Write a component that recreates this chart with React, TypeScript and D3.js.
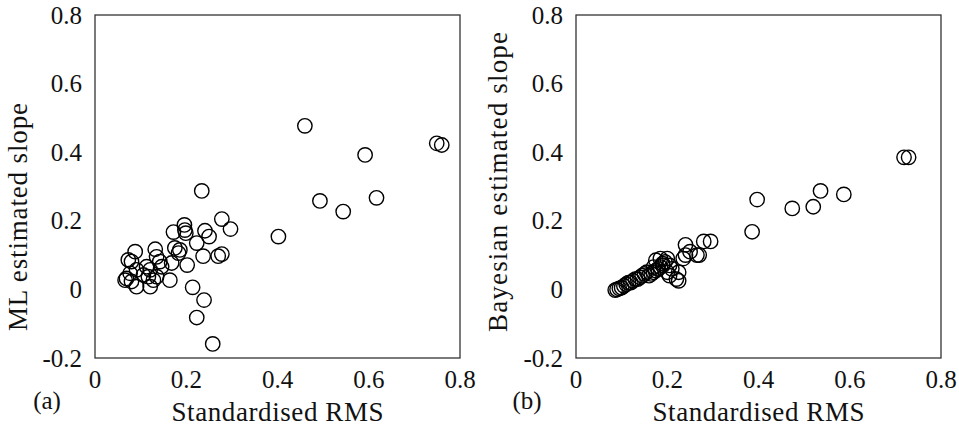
import React from "react";
import * as d3 from "d3";

// Panel (a): ML estimated slope vs standardised RMS
const rmsA = [0.234, 0.278, 0.297, 0.402, 0.196, 0.197, 0.199, 0.172, 0.241, 0.25, 0.223, 0.175, 0.186, 0.183, 0.237, 0.27, 0.278, 0.202, 0.168, 0.164, 0.214, 0.239, 0.223, 0.258,
  0.088, 0.132, 0.073, 0.08, 0.135, 0.142, 0.146, 0.113, 0.121, 0.091, 0.077, 0.106, 0.069, 0.08, 0.091, 0.121, 0.128, 0.117, 0.135, 0.066,
  0.46, 0.592, 0.749, 0.76, 0.493, 0.544, 0.617];
const slopeA = [0.287, 0.205, 0.176, 0.154, 0.188, 0.173, 0.164, 0.167, 0.171, 0.154, 0.135, 0.121, 0.115, 0.106, 0.097, 0.097, 0.103, 0.071, 0.077, 0.027, 0.006, -0.031, -0.082, -0.159,
  0.11, 0.117, 0.086, 0.081, 0.095, 0.081, 0.066, 0.066, 0.057, 0.057, 0.047, 0.042, 0.032, 0.023, 0.008, 0.008, 0.027, 0.037, 0.037, 0.027,
  0.477, 0.392, 0.426, 0.421, 0.258, 0.227, 0.267];

// Panel (b): Bayesian estimated slope vs standardised RMS
const rmsB = [0.086, 0.09, 0.095, 0.1, 0.105, 0.11, 0.12, 0.125, 0.13, 0.14, 0.145, 0.16, 0.165, 0.17, 0.175, 0.18, 0.185, 0.19, 0.195, 0.2, 0.175, 0.185, 0.2, 0.205, 0.22, 0.225, 0.235, 0.24, 0.24, 0.25, 0.265, 0.27, 0.28, 0.295, 0.21, 0.155, 0.115, 0.135, 0.19, 0.205, 0.225, 0.17, 0.15,
  0.386, 0.397, 0.474, 0.52, 0.536, 0.587, 0.719, 0.729];
const slopeB = [-0.002, 0.0, 0.003, 0.005, 0.01, 0.015, 0.02, 0.025, 0.03, 0.035, 0.04, 0.04, 0.045, 0.05, 0.055, 0.06, 0.065, 0.07, 0.08, 0.09, 0.085, 0.09, 0.05, 0.04, 0.03, 0.05, 0.09, 0.1, 0.13, 0.11, 0.1, 0.1, 0.14, 0.14, 0.06, 0.05, 0.02, 0.03, 0.075, 0.07, 0.025, 0.065, 0.045,
  0.168, 0.262, 0.236, 0.241, 0.287, 0.277, 0.385, 0.385];

const xTicks = [0, 0.2, 0.4, 0.6, 0.8];
const yTicks = [-0.2, 0, 0.2, 0.4, 0.6, 0.8];
const xTickLabels = ["0", "0.2", "0.4", "0.6", "0.8"];
const yTickLabels = ["-0.2", "0", "0.2", "0.4", "0.6", "0.8"];

const FONT = "'Liberation Serif', 'DejaVu Serif', serif";

type PanelProps = {
  left: number;
  xs: number[];
  ys: number[];
  yTitle: string;
  yTitleX: number;
  yTitleY: number;
  yTitleLen: number;
  tag: string;
  tagX: number;
};

function Panel({ left, xs, ys, yTitle, yTitleX, yTitleY, yTitleLen, tag, tagX }: PanelProps) {
  const width = 365;
  const top = 15;
  const bottom = 358;
  const x = d3.scaleLinear().domain([0, 0.8]).range([left, left + width]);
  const y = d3.scaleLinear().domain([-0.2, 0.8]).range([bottom, top]);
  return (
    <g>
      <rect x={left} y={top} width={width} height={bottom - top} fill="none" stroke="#333" strokeWidth={1.3} />
      {yTicks.map((t, i) => (
        <text key={"y" + i} x={left - 13} y={y(t)} textAnchor="end" dominantBaseline="central" fontFamily={FONT} fontSize={25} fill="#111">
          {yTickLabels[i]}
        </text>
      ))}
      {xTicks.map((t, i) => (
        <text key={"x" + i} x={x(t)} y={379} textAnchor="middle" dominantBaseline="central" fontFamily={FONT} fontSize={25} fill="#111">
          {xTickLabels[i]}
        </text>
      ))}
      <text x={left + width / 2} y={412} textAnchor="middle" dominantBaseline="central" fontFamily={FONT} fontSize={27} fill="#111" textLength={212} lengthAdjust="spacing">
        Standardised RMS
      </text>
      <text transform={`translate(${yTitleX},${yTitleY}) rotate(-90)`} textAnchor="middle" dominantBaseline="central" fontFamily={FONT} fontSize={27} fill="#111" textLength={yTitleLen} lengthAdjust="spacing">
        {yTitle}
      </text>
      <text x={tagX} y={400} textAnchor="middle" dominantBaseline="central" fontFamily={FONT} fontSize={25} fill="#111">
        {tag}
      </text>
      {xs.map((v, i) => (
        <circle key={"c" + i} cx={x(v)} cy={y(ys[i])} r={7.2} fill="none" stroke="#000" strokeWidth={1.4} />
      ))}
    </g>
  );
}

export default function App() {
  return (
    <div style={{ position: "absolute", left: 0, top: 0 }}>
      <svg width={959} height={434} style={{ display: "block", background: "#fff" }}>
        <Panel left={95} xs={rmsA} ys={slopeA} yTitle="ML estimated slope" yTitleX={18} yTitleY={217} yTitleLen={228} tag="(a)" tagX={47} />
        <Panel left={576} xs={rmsB} ys={slopeB} yTitle="Bayesian estimated slope" yTitleX={498} yTitleY={182} yTitleLen={300} tag="(b)" tagX={527} />
      </svg>
    </div>
  );
}
